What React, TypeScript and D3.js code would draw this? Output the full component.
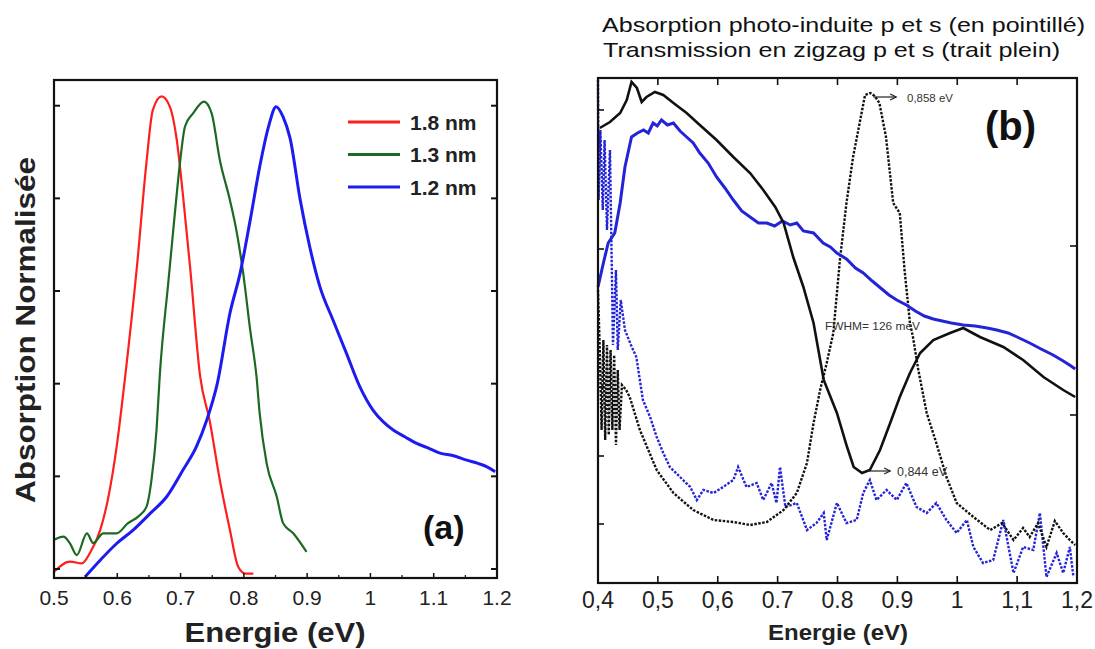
import React from "react";
import * as d3 from "d3";

// ---------- Panel (a) data ----------
const redE = [0.5, 0.525, 0.544, 0.557, 0.573, 0.585, 0.599, 0.612, 0.631, 0.646, 0.656, 0.67, 0.683, 0.694, 0.704, 0.715, 0.731, 0.746, 0.762, 0.778, 0.791, 0.803, 0.815];
const redV = [-0.006, 0.016, 0.012, 0.035, 0.084, 0.149, 0.264, 0.41, 0.652, 0.876, 0.99, 1.02, 0.998, 0.926, 0.804, 0.652, 0.415, 0.32, 0.192, 0.084, 0.005, -0.01, -0.01];

const greenE = [0.5, 0.515, 0.525, 0.536, 0.552, 0.562, 0.578, 0.599, 0.617, 0.633, 0.646, 0.654, 0.662, 0.667, 0.681, 0.691, 0.699, 0.707, 0.72, 0.737, 0.749, 0.762, 0.778, 0.789, 0.799, 0.81, 0.82, 0.825, 0.836, 0.852, 0.862, 0.878, 0.899];
const greenV = [0.063, 0.07, 0.056, 0.03, 0.077, 0.056, 0.077, 0.077, 0.099, 0.113, 0.134, 0.192, 0.3, 0.415, 0.624, 0.768, 0.876, 0.955, 0.984, 1.009, 0.984, 0.883, 0.796, 0.725, 0.638, 0.516, 0.415, 0.336, 0.228, 0.156, 0.099, 0.077, 0.037];

const blueE = [0.549, 0.573, 0.599, 0.625, 0.652, 0.678, 0.704, 0.725, 0.741, 0.758, 0.778, 0.794, 0.81, 0.825, 0.839, 0.851, 0.862, 0.873, 0.889, 0.904, 0.92, 0.941, 0.962, 0.983, 1.004, 1.02, 1.036, 1.055, 1.073, 1.09, 1.11, 1.13, 1.152, 1.17, 1.185, 1.197];
const blueV = [-0.017, 0.019, 0.055, 0.084, 0.12, 0.156, 0.214, 0.264, 0.32, 0.4, 0.552, 0.638, 0.753, 0.868, 0.955, 0.998, 0.976, 0.93, 0.797, 0.696, 0.61, 0.537, 0.466, 0.394, 0.343, 0.318, 0.3, 0.285, 0.271, 0.262, 0.25, 0.245, 0.235, 0.228, 0.22, 0.21];

const aXTicks = [0.5, 0.6, 0.7, 0.8, 0.9, 1.0, 1.1, 1.2];
const aXTickLabels = ["0.5", "0.6", "0.7", "0.8", "0.9", "1", "1.1", "1.2"];
const aYTicks = [0, 0.2, 0.4, 0.6, 0.8, 1.0];
const legendLabels = ["1.8 nm", "1.3 nm", "1.2 nm"];
const legendColors = ["#ff1e1e", "#1b6a22", "#1c1cf0"];

// ---------- Panel (b) data ----------
const bTransPE = [0.403, 0.42, 0.437, 0.448, 0.456, 0.465, 0.473, 0.481, 0.495, 0.509, 0.526, 0.548, 0.57, 0.598, 0.626, 0.654, 0.676, 0.696, 0.71, 0.726, 0.743, 0.76, 0.777, 0.799, 0.816, 0.827, 0.841, 0.854, 0.871, 0.888, 0.904, 0.921, 0.938, 0.96, 0.988, 1.01, 1.038, 1.077, 1.11, 1.144, 1.177, 1.197];
const bTransPV = [4.55, 4.61, 4.7, 4.83, 5.01, 4.95, 4.81, 4.86, 4.91, 4.88, 4.8, 4.7, 4.58, 4.43, 4.26, 4.1, 3.93, 3.76, 3.6, 3.26, 2.96, 2.6, 2.03, 1.7, 1.36, 1.16, 1.1, 1.13, 1.33, 1.6, 1.86, 2.1, 2.3, 2.43, 2.5, 2.55, 2.46, 2.36, 2.23, 2.06, 1.93, 1.86];

const bTransSE = [0.4, 0.409, 0.417, 0.428, 0.437, 0.445, 0.456, 0.466, 0.476, 0.484, 0.492, 0.499, 0.506, 0.516, 0.526, 0.537, 0.548, 0.559, 0.57, 0.584, 0.598, 0.612, 0.626, 0.64, 0.654, 0.668, 0.682, 0.695, 0.708, 0.721, 0.732, 0.743, 0.76, 0.776, 0.788, 0.799, 0.815, 0.83, 0.843, 0.858, 0.872, 0.886, 0.899, 0.915, 0.93, 0.945, 0.96, 0.975, 0.99, 1.01, 1.03, 1.05, 1.066, 1.085, 1.1, 1.121, 1.14, 1.16, 1.177, 1.19, 1.197];
const bTransSV = [2.96, 3.2, 3.4, 3.5, 3.8, 4.16, 4.46, 4.5, 4.53, 4.5, 4.6, 4.57, 4.63, 4.58, 4.6, 4.52, 4.46, 4.4, 4.3, 4.2, 4.06, 3.95, 3.83, 3.72, 3.66, 3.6, 3.6, 3.57, 3.62, 3.58, 3.6, 3.52, 3.5, 3.4, 3.36, 3.3, 3.24, 3.15, 3.1, 3.02, 2.95, 2.88, 2.83, 2.78, 2.72, 2.67, 2.64, 2.62, 2.6, 2.58, 2.57, 2.55, 2.53, 2.5, 2.46, 2.4, 2.34, 2.28, 2.22, 2.17, 2.14];

const bAbsPE = [0.4, 0.403, 0.406, 0.409, 0.412, 0.415, 0.418, 0.421, 0.424, 0.427, 0.43, 0.433, 0.436, 0.44, 0.447, 0.453, 0.47, 0.498, 0.526, 0.559, 0.593, 0.626, 0.654, 0.682, 0.71, 0.732, 0.749, 0.76, 0.771, 0.782, 0.793, 0.804, 0.815, 0.826, 0.837, 0.846, 0.855, 0.862, 0.87, 0.881, 0.893, 0.904, 0.912, 0.921, 0.926, 0.935, 0.949, 0.965, 0.982, 0.999, 1.027, 1.055, 1.075, 1.094, 1.11, 1.121, 1.135, 1.149, 1.163, 1.177, 1.188, 1.197];
const bAbsPV = [2.93, 2.33, 1.53, 2.43, 1.43, 2.38, 1.48, 2.33, 1.53, 2.28, 1.38, 2.13, 1.53, 1.98, 1.93, 1.86, 1.53, 1.13, 0.9, 0.73, 0.63, 0.61, 0.58, 0.61, 0.73, 0.9, 1.2, 1.6, 1.93, 2.2, 2.5, 3.23, 3.8, 4.26, 4.6, 4.88, 4.9, 4.87, 4.8, 4.46, 3.8, 3.7, 3.13, 2.6, 2.46, 2.13, 1.7, 1.4, 1.06, 0.8, 0.66, 0.53, 0.6, 0.43, 0.55, 0.46, 0.6, 0.36, 0.62, 0.5, 0.43, 0.38];

const bAbsSE = [0.4, 0.401, 0.404, 0.408, 0.411, 0.415, 0.42, 0.425, 0.43, 0.433, 0.438, 0.445, 0.455, 0.464, 0.475, 0.487, 0.498, 0.509, 0.52, 0.537, 0.554, 0.565, 0.576, 0.593, 0.609, 0.626, 0.634, 0.648, 0.665, 0.676, 0.69, 0.698, 0.704, 0.713, 0.732, 0.749, 0.765, 0.777, 0.782, 0.799, 0.815, 0.832, 0.843, 0.854, 0.865, 0.882, 0.899, 0.915, 0.932, 0.949, 0.965, 0.982, 0.999, 1.016, 1.027, 1.043, 1.06, 1.077, 1.094, 1.11, 1.127, 1.138, 1.149, 1.166, 1.177, 1.188, 1.194];
const bAbsSV = [5.03, 3.83, 4.53, 3.73, 4.43, 3.53, 4.33, 2.38, 3.13, 2.33, 2.83, 2.53, 2.38, 2.26, 1.83, 1.66, 1.46, 1.3, 1.16, 1.06, 0.96, 0.83, 0.93, 0.9, 0.96, 1.03, 1.16, 0.96, 1.0, 0.83, 1.0, 0.8, 1.16, 0.76, 0.8, 0.53, 0.6, 0.7, 0.43, 0.8, 0.6, 0.63, 0.9, 1.03, 0.83, 0.93, 0.83, 1.0, 0.76, 0.7, 0.8, 0.63, 0.5, 0.63, 0.36, 0.2, 0.23, 0.63, 0.1, 0.36, 0.33, 0.7, 0.06, 0.3, 0.1, 0.36, 0.06];

const bXTicks = [0.4, 0.5, 0.6, 0.7, 0.8, 0.9, 1.0, 1.1, 1.2];
const bXTickLabels = ["0,4", "0,5", "0,6", "0.7", "0.8", "0.9", "1", "1,1", "1,2"];
const bLeftTicks = [4.73, 3.34, 1.96, 1.27, 0.59];
const bRightTicks = [3.37, 1.68];

const zip = (xs: number[], ys: number[]) => xs.map((x, i) => [x, ys[i]] as [number, number]);

export default function App() {
  const W = 1095, H = 649;
  const font = "'Liberation Sans', Arial, sans-serif";

  // Panel (a) scales
  const xA = d3.scaleLinear().domain([0.5, 1.2]).range([54, 497]);
  const yA = d3.scaleLinear().domain([0, 1]).range([569, 105.7]);
  const aTop = 80, aBottom = 578;
  const lineA = d3.line<[number, number]>().x(d => xA(d[0])).y(d => yA(d[1])).curve(d3.curveMonotoneX);

  // Panel (b) scales
  const xB = d3.scaleLinear().domain([0.4, 1.2]).range([598, 1077]);
  const yB = d3.scaleLinear().domain([0, 5.05]).range([583, 78]);
  const lineB = d3.line<[number, number]>().x(d => xB(d[0])).y(d => yB(d[1]));

  const minorA = d3.range(0.55, 1.2, 0.1);

  return (
    <svg width={W} height={H} style={{ position: "absolute", left: 0, top: 0, background: "#fff" }} fontFamily={font}>
      <rect x={0} y={0} width={W} height={H} fill="#fff" />

      {/* ===== Panel (a) ===== */}
      <g>
        <path d={lineA(zip(redE, redV)) || ""} fill="none" stroke="#ff1e1e" strokeWidth={2.2} />
        <path d={lineA(zip(greenE, greenV)) || ""} fill="none" stroke="#1b6a22" strokeWidth={2.2} />
        <path d={lineA(zip(blueE, blueV)) || ""} fill="none" stroke="#1c1cf0" strokeWidth={3} />

        <rect x={xA(0.5)} y={aTop} width={xA(1.2) - xA(0.5)} height={aBottom - aTop} fill="none" stroke="#111" strokeWidth={2.2} />
        {aYTicks.map(t => (
          <g key={"ay" + t}>
            <line x1={xA(0.5)} x2={xA(0.5) + 6} y1={yA(t)} y2={yA(t)} stroke="#111" strokeWidth={2} />
            <line x1={xA(1.2)} x2={xA(1.2) - 6} y1={yA(t)} y2={yA(t)} stroke="#111" strokeWidth={2} />
          </g>
        ))}
        {aXTicks.map(t => (
          <line key={"axt" + t} x1={xA(t)} x2={xA(t)} y1={aBottom} y2={aBottom - 5} stroke="#111" strokeWidth={1.5} />
        ))}
        {minorA.map(t => (
          <line key={"axm" + t} x1={xA(t)} x2={xA(t)} y1={aBottom} y2={aBottom - 3} stroke="#111" strokeWidth={1.2} />
        ))}
        {aXTicks.map((t, i) => (
          <text key={"axl" + t} x={xA(t)} y={605} textAnchor="middle" fontSize={21} fill="#222">{aXTickLabels[i]}</text>
        ))}
        <text x={275} y={642} textAnchor="middle" fontSize={28} fontWeight="bold" fill="#222" textLength={181} lengthAdjust="spacingAndGlyphs">Energie (eV)</text>
        <text transform="translate(35,330) rotate(-90)" textAnchor="middle" fontSize={28} fontWeight="bold" fill="#222" textLength={346} lengthAdjust="spacingAndGlyphs">Absorption Normalisée</text>

        {legendLabels.map((l, i) => (
          <g key={l}>
            <line x1={348} x2={400} y1={122 + i * 32.5} y2={122 + i * 32.5} stroke={legendColors[i]} strokeWidth={3} />
            <text x={410} y={129.5 + i * 32.5} fontSize={21} fontWeight="bold" fill="#222">{l}</text>
          </g>
        ))}
        <text x={423} y={539} fontSize={34} fontWeight="bold" fill="#111">(a)</text>
      </g>

      {/* ===== Panel (b) ===== */}
      <g>
        <text x={602} y={32} fontSize={21} fill="#111" textLength={483} lengthAdjust="spacingAndGlyphs">Absorption photo-induite p et s (en pointillé)</text>
        <text x={603} y={56.5} fontSize={21} fill="#111" textLength={457} lengthAdjust="spacingAndGlyphs">Transmission en zigzag p et s (trait plein)</text>

        <path d={lineB(zip(bAbsSE, bAbsSV)) || ""} fill="none" stroke="#2323d8" strokeWidth={2.4} strokeDasharray="2.5 1.5" />
        <path d={lineB(zip(bAbsPE, bAbsPV)) || ""} fill="none" stroke="#111" strokeWidth={2.4} strokeDasharray="2.5 1.5" />
        <path d={lineB(zip(bTransSE, bTransSV)) || ""} fill="none" stroke="#2323d8" strokeWidth={3} />
        <path d={lineB(zip(bTransPE, bTransPV)) || ""} fill="none" stroke="#111" strokeWidth={2.6} />

        <rect x={xB(0.4)} y={yB(5.05)} width={xB(1.2) - xB(0.4)} height={yB(0) - yB(5.05)} fill="none" stroke="#111" strokeWidth={2.2} />
        {bXTicks.slice(1, -1).map(t => (
          <g key={"bxt" + t}>
            <line x1={xB(t)} x2={xB(t)} y1={yB(0)} y2={yB(0) - 7} stroke="#111" strokeWidth={1.6} />
            <line x1={xB(t)} x2={xB(t)} y1={yB(5.05)} y2={yB(5.05) + 7} stroke="#111" strokeWidth={1.6} />
          </g>
        ))}
        {bLeftTicks.map(t => (
          <line key={"bl" + t} x1={xB(0.4)} x2={xB(0.4) + 6} y1={yB(t)} y2={yB(t)} stroke="#111" strokeWidth={1.6} />
        ))}
        {bRightTicks.map(t => (
          <line key={"br" + t} x1={xB(1.2)} x2={xB(1.2) - 7} y1={yB(t)} y2={yB(t)} stroke="#111" strokeWidth={1.6} />
        ))}
        {bXTicks.map((t, i) => (
          <text key={"bxl" + t} x={xB(t)} y={608} textAnchor="middle" fontSize={23} fill="#222">{bXTickLabels[i]}</text>
        ))}
        <text x={838} y={640} textAnchor="middle" fontSize={22} fontWeight="bold" fill="#222" textLength={140} lengthAdjust="spacingAndGlyphs">Energie (eV)</text>
        <text x={985} y={140} fontSize={40} fontWeight="bold" fill="#111">(b)</text>

        <line x1={xB(0.86)} x2={xB(0.898)} y1={yB(4.86)} y2={yB(4.86)} stroke="#222" strokeWidth={1.2} />
        <path d={`M${xB(0.898) - 6},${yB(4.86) - 3} L${xB(0.898)},${yB(4.86)} L${xB(0.898) - 6},${yB(4.86) + 3}`} fill="none" stroke="#222" strokeWidth={1.2} />
        <text x={907} y={102} fontSize={11} fill="#333" textLength={46} lengthAdjust="spacingAndGlyphs">0,858 eV</text>
        <text x={825} y={330} fontSize={11} fill="#333" textLength={95} lengthAdjust="spacingAndGlyphs">FWHM= 126 meV</text>
        <line x1={xB(0.85)} x2={xB(0.888)} y1={yB(1.12)} y2={yB(1.12)} stroke="#222" strokeWidth={1.2} />
        <path d={`M${xB(0.888) - 6},${yB(1.12) - 3} L${xB(0.888)},${yB(1.12)} L${xB(0.888) - 6},${yB(1.12) + 3}`} fill="none" stroke="#222" strokeWidth={1.2} />
        <text x={897} y={476} fontSize={13} fill="#333" textLength={50} lengthAdjust="spacingAndGlyphs">0,844 eV</text>
      </g>
    </svg>
  );
}
